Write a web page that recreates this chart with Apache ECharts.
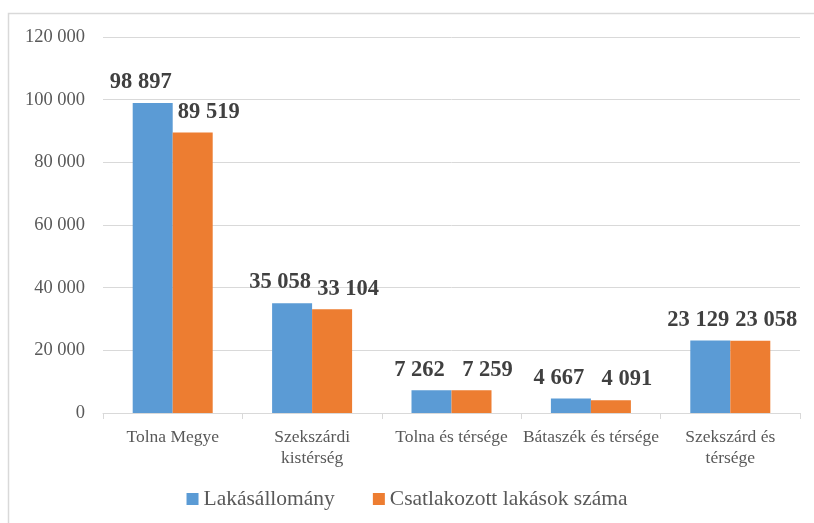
<!DOCTYPE html>
<html lang="hu">
<head>
    <meta charset="UTF-8">
    <title>Lakásállomány</title>
    <script src="https://cdn.jsdelivr.net/npm/echarts@6/dist/echarts.min.js"></script>
    <style>
        html, body { margin: 0; padding: 0; background: #fff; }
        #box { width: 814px; height: 523px; }
    </style>
</head>
<body>
<div id="box"></div>
<script>
    var categories = ['Tolna Megye', 'Szekszárdi\nkistérség', 'Tolna és térsége', 'Bátaszék és térsége', 'Szekszárd és\ntérsége'];
    var lakasallomany = [98897, 35058, 7262, 4667, 23129];
    var csatlakozott = [89519, 33104, 7259, 4091, 23058];
    var seriesNames = ['Lakásállomány', 'Csatlakozott lakások száma'];

    function fmt(v) {
        return String(v).replace(/\B(?=(\d{3})+(?!\d))/g, ' ');
    }

    var serif = '"Liberation Serif", "DejaVu Serif", serif';
    var myChart = echarts.init(document.getElementById('box'));
    function makeLabel(dx) {
        return {
            show: true,
            position: 'top',
            distance: 9,
            offset: [dx, 0],
            fontFamily: serif,
            fontWeight: 'bold',
            fontSize: 22.5,
            color: '#404040',
            formatter: function (p) { return fmt(p.value); }
        };
    }
    var option = {
        animation: false,
        graphic: [{
            type: 'rect',
            shape: { x: 8.5, y: 13.5, width: 830, height: 540 },
            style: { fill: 'none', stroke: '#d9d9d9', lineWidth: 1.5 }
        }],
        legend: {
            bottom: 8,
            left: 'center',
            itemWidth: 12,
            itemHeight: 12,
            itemGap: 38,
            icon: 'rect',
            textStyle: { fontFamily: serif, fontSize: 21.5, color: '#595959' },
            data: seriesNames
        },
        grid: { left: 103, right: 14, top: 37, bottom: 110, containLabel: false },
        xAxis: {
            type: 'category',
            data: categories,
            axisLine: { lineStyle: { color: '#d9d9d9' } },
            axisTick: { show: true, length: 6, lineStyle: { color: '#d9d9d9' } },
            axisLabel: { fontFamily: serif, fontSize: 17.5, color: '#595959', lineHeight: 21, margin: 14, interval: 0 }
        },
        yAxis: {
            type: 'value',
            min: 0,
            max: 120000,
            interval: 20000,
            axisLine: { show: false },
            axisTick: { show: false },
            splitLine: { lineStyle: { color: '#d9d9d9' } },
            axisLabel: { fontFamily: serif, fontSize: 18.5, color: '#595959', margin: 18, formatter: fmt }
        },
        series: [
            {
                name: seriesNames[0],
                type: 'bar',
                data: lakasallomany,
                barWidth: 40,
                barGap: '0%',
                itemStyle: { color: '#5b9bd5' },
                label: makeLabel(-12)
            },
            {
                name: seriesNames[1],
                type: 'bar',
                data: csatlakozott,
                barWidth: 40,
                itemStyle: { color: '#ed7d31' },
                label: makeLabel(16)
            }
        ]
    };
    myChart.setOption(option);
</script>
</body>
</html>
